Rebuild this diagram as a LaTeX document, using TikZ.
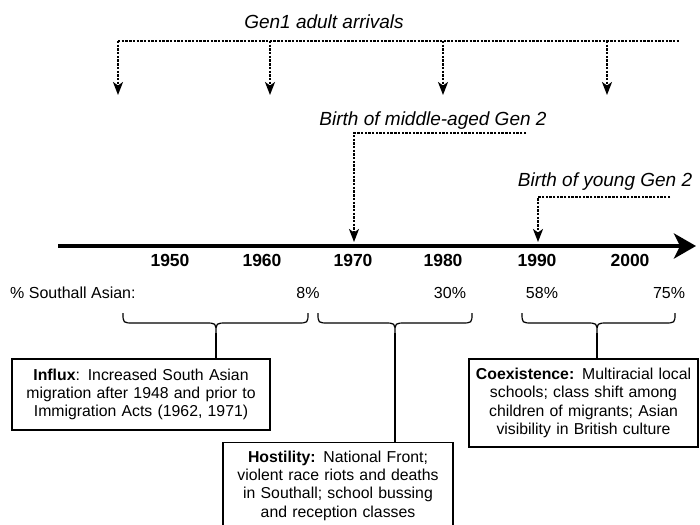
\documentclass[tikz,border=0pt]{standalone}
\usepackage{fontspec}
\setmainfont{Liberation Sans}
\usetikzlibrary{arrows.meta}
\tikzset{
  dotln/.style={line width=2pt, dash pattern=on 2.4pt off 1.3pt},
  dotarr/.style={dotln, -{Stealth[length=13pt,width=10pt,inset=3.5pt]}},
  italab/.style={font=\fontsize{19}{21}\selectfont\itshape, inner sep=0pt},
  yearlab/.style={font=\fontsize{17.5}{20}\selectfont\bfseries, inner sep=0pt},
  pctlab/.style={font=\fontsize{16}{18}\selectfont, inner sep=0pt},
  bracestyle/.style={line width=1.2pt},
  infobox/.style={draw, line width=1.2pt, align=center, inner sep=0pt,
    font=\fontsize{15.8}{18.4}\selectfont},
  connline/.style={line width=1.2pt}
}
\begin{document}
\begin{tikzpicture}[x=1pt,y=-1pt]
\useasboundingbox (0,0) rectangle (700,524);
\fill[white] (0,0) rectangle (700,524);

% Gen1 adult arrivals
\node[italab] (gen1) at (324,22) {Gen1 adult arrivals};
\coordinate (g0) at (118,41);
\coordinate (gend) at (679,41);
\coordinate (g1) at (270,41);
\coordinate (g2) at (443,41);
\coordinate (g3) at (607,41);
\coordinate (a0) at (118,95);
\coordinate (a1) at (270,95);
\coordinate (a2) at (443,95);
\coordinate (a3) at (607,95);
\draw[dotln] (g0) -- (gend);
\draw[dotarr] (g0) -- (a0);
\draw[dotarr] (g1) -- (a1);
\draw[dotarr] (g2) -- (a2);
\draw[dotarr] (g3) -- (a3);

% Axis
\coordinate (ax0) at (58,246);
\coordinate (ax1) at (696,246);
\draw[line width=4.5pt, -{Stealth[length=22pt,width=25pt,inset=6pt]}] (ax0) -- (ax1);

% Birth of middle-aged Gen 2
\node[italab] (midlab) at (433,121) {Birth of middle-aged Gen 2};
\coordinate (m0) at (526,133);
\coordinate (m1) at (354,242);
\draw[dotarr] (m0) -| (m1);

% Birth of young Gen 2
\node[italab] (younglab) at (605,182) {Birth of young Gen 2};
\coordinate (y0) at (670,197);
\coordinate (y1) at (538,242);
\draw[dotarr] (y0) -| (y1);

% Year labels
\node[yearlab] (y1950) at (170,260) {1950};
\node[yearlab] (y1960) at (262,260) {1960};
\node[yearlab] (y1970) at (353,260) {1970};
\node[yearlab] (y1980) at (443,260) {1980};
\node[yearlab] (y1990) at (537,260) {1990};
\node[yearlab] (y2000) at (630,260) {2000};

% Percentages
\node[pctlab, anchor=west] (pcttitle) at (10,293) {\% Southall Asian:};
\node[pctlab] (p8) at (308,293) {8\%};
\node[pctlab] (p30) at (450,293) {30\%};
\node[pctlab] (p58) at (542,293) {58\%};
\node[pctlab] (p75) at (669,293) {75\%};

% Braces
\draw[bracestyle] (123,313) .. controls (123,323) .. (134,323) -- (205,323)
  .. controls (216,323) .. (216,333) .. controls (216,323) .. (227,323)
  -- (297,323) .. controls (308,323) .. (308,313);
\coordinate (b1) at (216,333);
\draw[bracestyle] (318,313) .. controls (318,323) .. (329,323) -- (384,323)
  .. controls (395,323) .. (395,333) .. controls (395,323) .. (406,323)
  -- (461,323) .. controls (472,323) .. (472,313);
\coordinate (b2) at (395,333);
\draw[bracestyle] (522,313) .. controls (522,323) .. (533,323) -- (586,323)
  .. controls (597,323) .. (597,333) .. controls (597,323) .. (608,323)
  -- (664,323) .. controls (675,323) .. (675,313);
\coordinate (b3) at (597,333);

% Boxes
\node[infobox, minimum width=258pt, minimum height=71pt, text width=252pt] (influx) at (141,394.5)
  {\textbf{Influx}: Increased South Asian\\migration after 1948 and prior to\\Immigration Acts (1962, 1971)};
\node[infobox, minimum width=230pt, minimum height=86pt, text width=226pt, anchor=north] (host) at (338,442)
  {\textbf{Hostility:} National Front;\\violent race riots and deaths\\in Southall; school bussing\\and reception classes};
\node[infobox, minimum width=229pt, minimum height=88pt, text width=226pt] (coex) at (583.5,403)
  {\textbf{Coexistence:} Multiracial local\\schools; class shift among\\children of migrants; Asian\\visibility in British culture};

% Connectors
\draw[connline] (b1) -- (b1 |- influx.north);
\draw[connline] (b2) -- (b2 |- host.north);
\draw[connline] (b3) -- (b3 |- coex.north);
\end{tikzpicture}
\end{document}
